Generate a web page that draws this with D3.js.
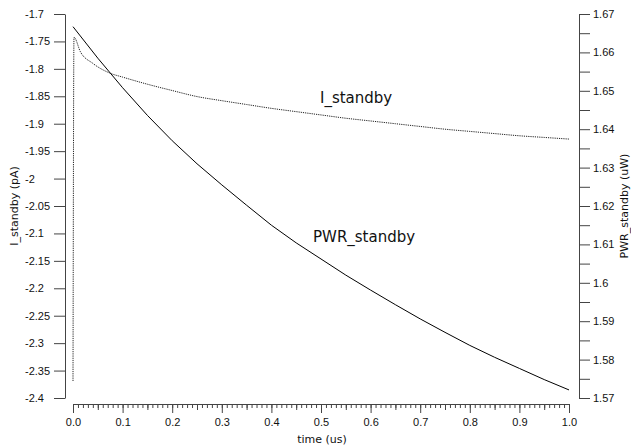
<!DOCTYPE html>
<meta charset="UTF-8">
<head>
  <style>
    body { margin: 0; background: #fff; }
    svg { display: block; font-family: "DejaVu Sans", sans-serif; }
    .axis text { font-size: 11px; fill: #111; }
    .axis path, .axis line { stroke: #444; }
    .title { font-size: 11px; fill: #111; }
    .curve-label { font-size: 15px; fill: #111; }
  </style>
</head>
<body>
  <script src="https://d3js.org/d3.v7.min.js"></script>
  <script>
    // I_standby (pA) vs time (us), left axis
    var iTime = [0, 0.002, 0.015, 0.04, 0.075, 0.1, 0.15, 0.2, 0.25, 0.3, 0.35, 0.4, 0.45, 0.5,
      0.55, 0.6, 0.65, 0.7, 0.75, 0.8, 0.85, 0.9, 0.95, 1.0];
    var iStandby = [-2.369, -1.7425, -1.769, -1.790, -1.808, -1.815, -1.828, -1.8395, -1.8505, -1.858,
      -1.865, -1.872, -1.878, -1.884, -1.890, -1.895, -1.900, -1.905, -1.910, -1.914, -1.918, -1.922,
      -1.925, -1.928];

    // PWR_standby (uW) vs time (us), right axis
    var pwrTime = [0, 0.05, 0.1, 0.15, 0.2, 0.25, 0.3, 0.35, 0.4, 0.45, 0.5,
      0.55, 0.6, 0.65, 0.7, 0.75, 0.8, 0.85, 0.9, 0.95, 1.0];
    var pwrStandby = [1.6667, 1.6585, 1.6508, 1.6436, 1.6370, 1.6310, 1.6255, 1.6202, 1.6150, 1.6104,
      1.6062, 1.6020, 1.5981, 1.5943, 1.5906, 1.5871, 1.5837, 1.5806, 1.5777, 1.5748, 1.5721];

    // tick labels
    var xTicks = [0, 0.1, 0.2, 0.3, 0.4, 0.5, 0.6, 0.7, 0.8, 0.9, 1.0];
    var leftTicks = [-1.7, -1.75, -1.8, -1.85, -1.9, -1.95, -2.0, -2.05, -2.1, -2.15, -2.2,
      -2.25, -2.3, -2.35, -2.4];
    var rightTicks = [1.57, 1.58, 1.59, 1.6, 1.61, 1.62, 1.63, 1.64, 1.65, 1.66, 1.67];

    var width = 631, height = 447;
    var svg = d3.select("body").append("svg")
      .attr("width", width)
      .attr("height", height);

    var x = d3.scaleLinear().domain([0, 1]).range([73, 569]);
    var yL = d3.scaleLinear().domain([-2.4, -1.7]).range([398, 14]);
    var yR = d3.scaleLinear().domain([1.57, 1.67]).range([398, 14]);

    // plain hyphen minus, trimmed zeros
    function fmt(d) { return String(+d.toFixed(3)); }

    // ---------- left axis ----------
    var gL = svg.append("g").attr("class", "axis")
      .attr("transform", "translate(65,0)")
      .call(d3.axisLeft(yL).tickValues(leftTicks).tickSize(11).tickSizeOuter(0).tickFormat(fmt));
    gL.selectAll("text").attr("x", -40).attr("text-anchor", "start");

    // ---------- right axis ----------
    var rightAll = d3.range(0, 21).map(function (i) { return +(1.57 + i * 0.005).toFixed(3); });
    svg.append("g").attr("class", "axis")
      .attr("transform", "translate(579,0)")
      .call(d3.axisRight(yR).tickValues(rightAll).tickSize(11).tickSizeOuter(0)
        .tickFormat(function (d) {
          return rightTicks.some(function (t) { return Math.abs(t - d) < 1e-6; }) ? fmt(d) : "";
        }));

    // ---------- bottom axis ----------
    var minor = d3.range(0, 101).map(function (i) { return i / 100; });
    svg.append("g").attr("class", "axis")
      .attr("transform", "translate(0,404)")
      .call(d3.axisBottom(x).tickValues(minor).tickSize(4).tickSizeOuter(0).tickFormat(""));
    var mid = d3.range(0, 10).map(function (i) { return i / 10 + 0.05; });
    svg.append("g").attr("class", "axis")
      .attr("transform", "translate(0,404)")
      .call(d3.axisBottom(x).tickValues(mid).tickSize(6).tickFormat(""))
      .select(".domain").remove();
    svg.append("g").attr("class", "axis")
      .attr("transform", "translate(0,404)")
      .call(d3.axisBottom(x).tickValues(xTicks).tickSize(9).tickPadding(5)
        .tickFormat(d3.format(".1f")))
      .select(".domain").remove();

    // ---------- titles ----------
    svg.append("text").attr("class", "title")
      .attr("x", 322).attr("y", 443)
      .attr("text-anchor", "middle")
      .text("time (us)");

    svg.append("text").attr("class", "title")
      .attr("transform", "translate(18,206) rotate(-90)")
      .attr("text-anchor", "middle")
      .text("I_standby (pA)");

    svg.append("text").attr("class", "title")
      .attr("transform", "translate(628,206) rotate(-90)")
      .attr("text-anchor", "middle")
      .text("PWR_standby (uW)");

    // ---------- curves ----------
    var lineI = d3.line()
      .x(function (d, i) { return x(iTime[i]); })
      .y(function (d) { return yL(d); })
      .curve(d3.curveMonotoneX);
    svg.append("path")
      .datum(iStandby)
      .attr("d", lineI)
      .attr("fill", "none")
      .attr("stroke", "#222")
      .attr("stroke-width", 1)
      .attr("stroke-dasharray", "1.2,1");

    var lineP = d3.line()
      .x(function (d, i) { return x(pwrTime[i]); })
      .y(function (d) { return yR(d); });
    svg.append("path")
      .datum(pwrStandby)
      .attr("d", lineP)
      .attr("fill", "none")
      .attr("stroke", "#000")
      .attr("stroke-width", 1);

    // curve labels
    svg.append("text").attr("class", "curve-label")
      .attr("x", 320).attr("y", 103)
      .text("I_standby");
    svg.append("text").attr("class", "curve-label")
      .attr("x", 313).attr("y", 242)
      .text("PWR_standby");
  </script>
</body>
